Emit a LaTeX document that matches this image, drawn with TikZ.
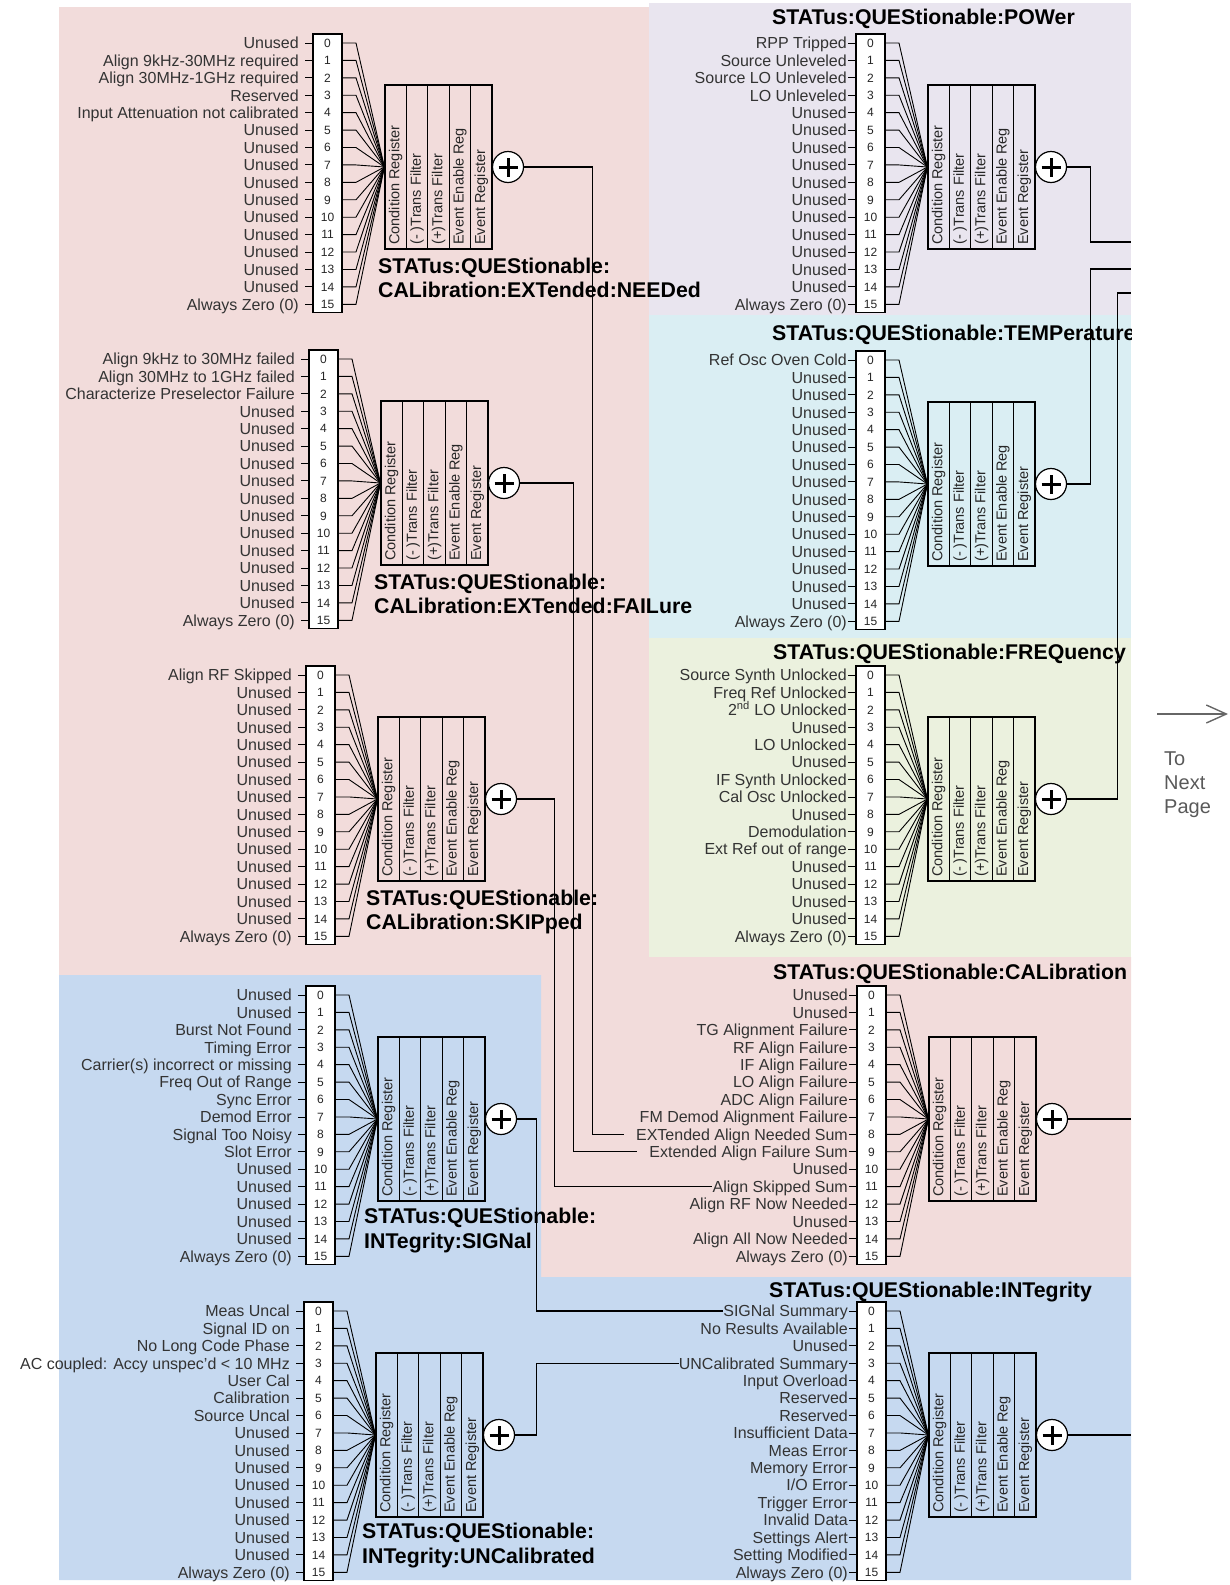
\documentclass[tikz,border=0pt]{standalone}
\usepackage{fontspec}
\setmainfont{Liberation Sans}
\usetikzlibrary{positioning, arrows.meta}

\definecolor{bgpink}{HTML}{F2DCDB}
\definecolor{bglilac}{HTML}{E9E5EF}
\definecolor{bgcyan}{HTML}{DAEEF3}
\definecolor{bggreen}{HTML}{EBF1DE}
\definecolor{bgblue}{HTML}{C6D9F0}

\begin{document}
\begin{tikzpicture}[
    x=1pt, y=-1pt,
    bitlabel/.style={
        anchor=east,
        inner sep=0pt,
        text height=11.5pt,
        text depth=0pt,
        font=\fontsize{16}{18}\selectfont,
        text=black!80
    },
    bitnum/.style={
        inner sep=0pt,
        text height=8.6pt,
        text depth=0pt,
        font=\fontsize{12}{14}\selectfont,
        text=black!85
    },
    bitbox/.style={
        draw,
        line width=1.2pt,
        fill=white,
        minimum width=29pt,
        minimum height=278.3pt,
        inner sep=0pt
    },
    regbox/.style={
        draw,
        line width=1.2pt,
        minimum width=107pt,
        minimum height=164pt,
        inner sep=0pt
    },
    regtext/.style={
        rotate=90,
        anchor=west,
        inner sep=0pt,
        text height=10.5pt,
        text depth=3pt,
        font=\fontsize{14.5}{16}\selectfont,
        text=black!85
    },
    sumnode/.style={
        circle,
        draw,
        line width=1.2pt,
        fill=white,
        minimum size=31pt,
        inner sep=0pt,
        path picture={
            \draw[line width=3pt]
                ([xshift=-9.5pt]path picture bounding box.center) -- ([xshift=9.5pt]path picture bounding box.center)
                ([yshift=-9.5pt]path picture bounding box.center) -- ([yshift=9.5pt]path picture bounding box.center);
        }
    },
    fan/.style={line width=0.9pt},
    tick/.style={line width=0.9pt},
    link/.style={line width=1.1pt},
    lefttitle/.style={
        anchor=north west,
        inner sep=0pt,
        align=left,
        font=\fontsize{21.3}{24.5}\selectfont\bfseries
    },
    righttitle/.style={
        anchor=base west,
        inner sep=0pt,
        font=\fontsize{21.3}{24}\selectfont\bfseries
    },
    nextpage/.style={
        inner sep=0pt,
        align=left,
        font=\fontsize{20}{24}\selectfont,
        text=black!65
    }
]
\useasboundingbox (0,0) rectangle (1230,1585);

% --- Background panels ---
\fill[bgpink] (59,7) -- (649,7) -- (649,957) -- (1131,957) -- (1131,1277) -- (541,1277) -- (541,975) -- (59,975) -- cycle;
\fill[bglilac] (649,3) rectangle (1131,315);
\fill[bgcyan] (649,315) rectangle (1131,638);
\fill[bggreen] (649,638) rectangle (1131,957);
\fill[bgblue] (59,975) -- (541,975) -- (541,1277) -- (1131,1277) -- (1131,1580) -- (59,1580) -- cycle;

% --- Register blocks: bit box, fan-in, register columns, summary bit ---
\foreach \g/\bx/\yy in {need/313/43, fail/309/359, skip/306/675, sign/306/995, unc/304/1311,
                        pow/856/43, temp/856/360, freq/856/675, cal/857/995, int/857/1311}{
    \pgfmathsetmacro{\ymid}{\yy+124}
    \node[regbox] (reg-\g) at (\bx+125.5,\ymid) {};
    \foreach \k in {1,...,4}
        \draw[line width=1.2pt] (\bx+72+\k*21.4,\ymid-82) -- (\bx+72+\k*21.4,\ymid+82);
    \foreach \t [count=\k from 0] in {Condition Register, {(- )Trans Filter}, {(+)Trans Filter}, Event Enable Reg, Event Register}
        \node[regtext] (col-\g-\k) at (\bx+82.7+\k*21.4,\ymid+78) {\t};
    \foreach \i in {0,...,15}{
        \draw[fan] (\bx+29,\yy+\i*17.42) -- (\bx+43,\yy+\i*17.42) -- (reg-\g.west);
        \draw[tick] (\bx-8,\yy+\i*17.42) -- (\bx,\yy+\i*17.42);
    }
    \node[bitbox] (bits-\g) at (\bx+14.5,\yy+130.15) {};
    \foreach \i in {0,...,15}
        \node[bitnum] (bit-\g-\i) at (\bx+14.5,\yy+\i*17.42) {\i};
    \node[sumnode] (sum-\g) at (\bx+195,\ymid) {};
}

% --- Bit labels, left column ---
\foreach \t [count=\i from 0] in {Unused, Align 9kHz-30MHz required, Align 30MHz-1GHz required, Reserved,
        Input Attenuation not calibrated, Unused, Unused, Unused, Unused, Unused, Unused, Unused, Unused,
        Unused, Unused, Always Zero (0)}
    \node[bitlabel] (need-\i) at (299,43+\i*17.42) {\t};
\foreach \t [count=\i from 0] in {Align 9kHz to 30MHz failed, Align 30MHz to 1GHz failed,
        Characterize Preselector Failure, Unused, Unused, Unused, Unused, Unused, Unused, Unused, Unused,
        Unused, Unused, Unused, Unused, Always Zero (0)}
    \node[bitlabel] (fail-\i) at (295,359+\i*17.42) {\t};
\foreach \t [count=\i from 0] in {Align RF Skipped, Unused, Unused, Unused, Unused, Unused, Unused, Unused,
        Unused, Unused, Unused, Unused, Unused, Unused, Unused, Always Zero (0)}
    \node[bitlabel] (skip-\i) at (292,675+\i*17.42) {\t};
\foreach \t [count=\i from 0] in {Unused, Unused, Burst Not Found, Timing Error, Carrier(s) incorrect or missing,
        Freq Out of Range, Sync Error, Demod Error, Signal Too Noisy, Slot Error, Unused, Unused, Unused,
        Unused, Unused, Always Zero (0)}
    \node[bitlabel] (sign-\i) at (292,995+\i*17.42) {\t};
\foreach \t [count=\i from 0] in {Meas Uncal, Signal ID on, No Long Code Phase, AC coupled: Accy unspec'd < 10 MHz,
        User Cal, Calibration, Source Uncal, Unused, Unused, Unused, Unused, Unused, Unused, Unused, Unused,
        Always Zero (0)}
    \node[bitlabel] (unc-\i) at (290,1311+\i*17.42) {\t};

% --- Bit labels, right column ---
\foreach \t [count=\i from 0] in {RPP Tripped, Source Unleveled, Source LO Unleveled, LO Unleveled, Unused,
        Unused, Unused, Unused, Unused, Unused, Unused, Unused, Unused, Unused, Unused, Always Zero (0)}
    \node[bitlabel] (pow-\i) at (847,43+\i*17.42) {\t};
\foreach \t [count=\i from 0] in {Ref Osc Oven Cold, Unused, Unused, Unused, Unused, Unused, Unused, Unused,
        Unused, Unused, Unused, Unused, Unused, Unused, Unused, Always Zero (0)}
    \node[bitlabel] (temp-\i) at (847,360+\i*17.42) {\t};
\foreach \t [count=\i from 0] in {Source Synth Unlocked, Freq Ref Unlocked, 2\textsuperscript{nd} LO Unlocked,
        Unused, LO Unlocked, Unused, IF Synth Unlocked, Cal Osc Unlocked, Unused, Demodulation,
        Ext Ref out of range, Unused, Unused, Unused, Unused, Always Zero (0)}
    \node[bitlabel] (freq-\i) at (847,675+\i*17.42) {\t};
\foreach \t [count=\i from 0] in {Unused, Unused, TG Alignment Failure, RF Align Failure, IF Align Failure,
        LO Align Failure, ADC Align Failure, FM Demod Alignment Failure, EXTended Align Needed Sum,
        Extended Align Failure Sum, Unused, Align Skipped Sum, Align RF Now Needed, Unused,
        Align All Now Needed, Always Zero (0)}
    \node[bitlabel] (cal-\i) at (848,995+\i*17.42) {\t};
\foreach \t [count=\i from 0] in {SIGNal Summary, No Results Available, Unused, UNCalibrated Summary,
        Input Overload, Reserved, Reserved, Insufficient Data, Meas Error, Memory Error, I/O Error,
        Trigger Error, Invalid Data, Settings Alert, Setting Modified, Always Zero (0)}
    \node[bitlabel] (int-\i) at (848,1311+\i*17.42) {\t};

% --- Register titles ---
\node[lefttitle] (title-need) at (378,257.5) {STATus:QUEStionable:\\CALibration:EXTended:NEEDed};
\node[lefttitle] (title-fail) at (374,573.5) {STATus:QUEStionable:\\CALibration:EXTended:FAILure};
\node[lefttitle] (title-skip) at (366,889.5) {STATus:QUEStionable:\\CALibration:SKIPped};
\node[lefttitle] (title-sign) at (364,1208) {STATus:QUEStionable:\\INTegrity:SIGNal};
\node[lefttitle] (title-unc) at (362,1523) {STATus:QUEStionable:\\INTegrity:UNCalibrated};

\begin{scope}
    \clip (649,0) rectangle (1131,1585);
    \node[righttitle] (title-pow) at (772,24.5) {STATus:QUEStionable:POWer};
    \node[righttitle] (title-temp) at (772,340.5) {STATus:QUEStionable:TEMPerature};
    \node[righttitle] (title-freq) at (773,659.5) {STATus:QUEStionable:FREQuency};
    \node[righttitle] (title-cal) at (773,979.5) {STATus:QUEStionable:CALibration};
    \node[righttitle] (title-int) at (769,1297.5) {STATus:QUEStionable:INTegrity};
\end{scope}

% --- Summary bits into the CALibration and INTegrity registers ---
\draw[link, shorten >=12pt] (sum-need.east) -- ++(68.5,0) |- (cal-8.west);
\draw[link, shorten >=12pt] (sum-fail.east) -- ++(53,0) |- (cal-9.west);
\draw[link] (sum-skip.east) -- ++(37.5,0) |- (cal-11.west);
\draw[link] (sum-sign.east) -- ++(19,0) |- (int-0.west);
\draw[link] (sum-unc.east) -- ++(21,0) |- (int-3.west);

% --- Outputs to the next page ---
\coordinate (out-pow) at (1131,242);
\coordinate (out-temp) at (1131,269);
\coordinate (out-freq) at (1131,293);
\coordinate (out-cal) at (1131,1119);
\coordinate (out-int) at (1131,1435);
\draw[link] (sum-pow.east) -- ++(23.5,0) |- (out-pow);
\draw[link] (sum-temp.east) -- ++(23.5,0) |- (out-temp);
\draw[link] (sum-freq.east) -- ++(50.5,0) |- (out-freq);
\draw[link] (sum-cal.east) -- (out-cal);
\draw[link] (sum-int.east) -- (out-int);

\coordinate (arrowtail) at (1157,714);
\coordinate (arrowtip) at (1228,714);
\draw[line width=1.4pt, black!60, -{Straight Barb[length=20pt, width=18pt]}] (arrowtail) -- (arrowtip);
\node[nextpage, anchor=north west, below right=38pt and 7pt of arrowtail] (nextpage) {To\\Next\\Page};

\end{tikzpicture}
\end{document}
